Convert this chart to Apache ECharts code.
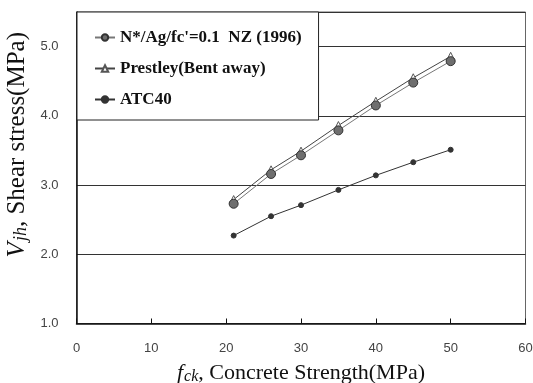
<!DOCTYPE html>
<html>
<head>
<meta charset="utf-8">
<script src="https://cdn.jsdelivr.net/npm/echarts@6/dist/echarts.min.js"></script>
<style>
  html, body { margin: 0; padding: 0; background: #fff; }
  #chart { width: 533px; height: 383px; }
</style>
</head>
<body>
<div id="chart"></div>
<script>
// concrete strength fck (MPa)
const fck = [21, 26, 30, 35, 40, 45, 50];
// shear stress Vjh (MPa)
const nz1996 = [2.73, 3.16, 3.43, 3.79, 4.15, 4.48, 4.79];
const prestley = [2.79, 3.22, 3.49, 3.86, 4.21, 4.55, 4.86];
const atc40 = [2.27, 2.55, 2.71, 2.93, 3.14, 3.33, 3.51];

const seriesNames = ["N*/Ag/fc'=0.1  NZ (1996)", 'Prestley(Bent away)', 'ATC40'];

const pairs = ys => fck.map((x, i) => [x, ys[i]]);

const chart = echarts.init(document.getElementById('chart'), null, { renderer: 'canvas' });

// rich text for the italic symbol + subscript axis titles
const titleRich = (size, subSize, key) => ({
  i: { fontFamily: 'Liberation Serif', fontStyle: 'italic', fontSize: size, [key]: '#111', lineHeight: size + 4, verticalAlign: 'bottom' },
  sub: { fontFamily: 'Liberation Serif', fontStyle: 'italic', fontSize: subSize, [key]: '#111', lineHeight: size + 4, verticalAlign: 'bottom', padding: [6, 0, 0, 1] },
  n: { fontFamily: 'Liberation Serif', fontSize: size, [key]: '#111', lineHeight: size + 4, verticalAlign: 'bottom' }
});

chart.setOption({
  animation: false,
  backgroundColor: '#fff',
  grid: {
    left: 76.5, right: 7.5, top: 12, bottom: 59.5,
    outerBoundsMode: 'none',
    show: true, borderColor: '#666', borderWidth: 1
  },
  legend: {
    orient: 'vertical',
    left: 77, top: 12,
    padding: [17, 17, 12, 17],
    itemGap: 14,
    itemWidth: 20, itemHeight: 8,
    backgroundColor: '#fff',
    borderColor: '#222', borderWidth: 1, borderRadius: 0,
    textStyle: { fontFamily: 'Liberation Serif', fontWeight: 'bold', fontSize: 17, color: '#111' },
    data: seriesNames
  },
  xAxis: {
    type: 'value', min: 0, max: 60, interval: 10,
    axisLine: { show: true, lineStyle: { color: '#111', width: 1.5 } },
    axisTick: { show: true, inside: true, length: 5, lineStyle: { color: '#111' } },
    splitLine: { show: false },
    axisLabel: { fontFamily: 'Liberation Sans', fontSize: 13, color: '#444', margin: 18 },
    name: '{i|f}{sub|ck}{n|, Concrete Strength(MPa)}',
    nameLocation: 'middle', nameGap: 35,
    nameTextStyle: { rich: titleRich(22, 16, 'color') }
  },
  yAxis: {
    type: 'value', min: 1, max: 5.5, interval: 1,
    axisLine: { show: true, lineStyle: { color: '#111', width: 1.5 } },
    axisTick: { show: false },
    splitLine: { show: true, lineStyle: { color: '#333', width: 1 } },
    axisLabel: {
      fontFamily: 'Liberation Sans', fontSize: 13, color: '#444', margin: 18,
      showMaxLabel: false,
      formatter: v => v.toFixed(1)
    }
  },
  graphic: [{
    type: 'text',
    left: 5, top: 32,
    rotation: Math.PI / 2,
    style: {
      text: '{i|V}{sub|jh}{n|, Shear stress(MPa)}',
      rich: titleRich(25, 18, 'fill')
    }
  }],
  series: [
    {
      name: seriesNames[0], type: 'line', data: pairs(nz1996),
      symbol: 'circle', symbolSize: 9,
      lineStyle: { color: '#777', width: 1 },
      itemStyle: { color: '#6e6e6e', borderColor: '#333', borderWidth: 1 },
      z: 3
    },
    {
      name: seriesNames[1], type: 'line', data: pairs(prestley),
      symbol: 'triangle', symbolSize: 8,
      lineStyle: { color: '#444', width: 1 },
      itemStyle: { color: '#fff', borderColor: '#555', borderWidth: 1 },
      z: 2
    },
    {
      name: seriesNames[2], type: 'line', data: pairs(atc40),
      symbol: 'circle', symbolSize: 5,
      lineStyle: { color: '#333', width: 1 },
      itemStyle: { color: '#333', borderColor: '#333', borderWidth: 1 }
    }
  ]
});
</script>
</body>
</html>
